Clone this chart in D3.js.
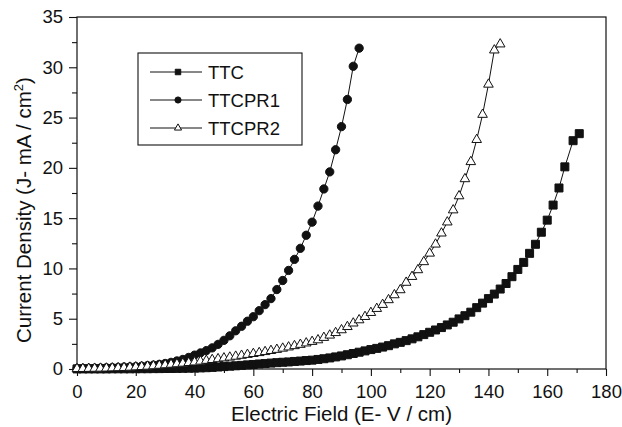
<!DOCTYPE html>
<html>
<head>
<meta charset="utf-8">
<script src="https://cdn.jsdelivr.net/npm/d3@7"></script>
<style>
  body { margin: 0; background: #fff; }
  text { font-family: "Liberation Sans", Arial, sans-serif; fill: #111; }
</style>
</head>
<body>
<div class="container"></div>
<script>
// [E (V/cm), J (mA/cm2)]
const ttc = [
  [0,0.01],[2,0.01],[4,0.01],[6,0.01],[8,0.01],[10,0.01],[12,0.02],[14,0.02],[16,0.02],[18,0.02],
  [20,0.03],[22,0.03],[24,0.03],[26,0.04],[28,0.04],[30,0.05],[32,0.05],[34,0.06],[36,0.07],[38,0.08],
  [40,0.09],[42,0.11],[44,0.13],[46,0.16],[48,0.2],[50,0.24],[52,0.28],[54,0.32],[56,0.36],[58,0.41],
  [60,0.45],[62,0.5],[64,0.54],[66,0.59],[68,0.63],[70,0.67],[72,0.7],[74,0.75],[76,0.79],[78,0.84],
  [80,0.88],[82,0.95],[84,1.02],[86,1.1],[88,1.2],[90,1.3],[92,1.42],[94,1.54],[96,1.67],[98,1.8],
  [100,1.93],[102,2.05],[104,2.18],[106,2.32],[108,2.5],[110,2.65],[112,2.82],[114,3.0],[116,3.2],[118,3.42],
  [120,3.65],[122,3.88],[124,4.12],[126,4.38],[128,4.65],[130,4.98],[132,5.3],[134,5.65],[136,6.1],[138,6.55],
  [140,7.0],[142,7.45],[144,7.95],[146,8.5],[148,9.18],[150,9.9],[152,10.6],[154,11.5],[156,12.4],[158,13.6],
  [160,14.8],[162,16.3],[164,18.0],[166,20.1],[168.8,22.7],[170.9,23.4]
]

const ttcpr1 = [
  [0,0.05],[2,0.06],[4,0.07],[6,0.08],[8,0.1],[10,0.12],[12,0.14],[14,0.16],[16,0.19],[18,0.21],
  [20,0.24],[22,0.28],[24,0.33],[26,0.39],[28,0.46],[30,0.55],[32,0.66],[34,0.8],[36,0.95],[38,1.15],
  [40,1.38],[42,1.6],[44,1.83],[46,2.1],[48,2.45],[50,2.85],[52,3.3],[54,3.8],[56,4.25],[58,4.75],
  [60,5.2],[62,5.8],[64,6.4],[66,7.0],[68,7.9],[70,8.8],[72,9.8],[74,10.9],[76,12.0],[78,13.3],
  [80,14.6],[82,16.2],[84,17.9],[86,19.6],[88,21.8],[90,24.1],[92,26.8],[94,30.1],[96,31.9]
]

const ttcpr2 = [
  [0,0.02],[2,0.03],[4,0.04],[6,0.05],[8,0.06],[10,0.07],[12,0.09],[14,0.11],[16,0.13],[18,0.16],
  [20,0.19],[22,0.22],[24,0.26],[26,0.3],[28,0.35],[30,0.4],[32,0.45],[34,0.5],[36,0.56],[38,0.62],
  [40,0.68],[42,0.76],[44,0.84],[46,0.92],[48,1.0],[50,1.08],[52,1.16],[54,1.25],[56,1.34],[58,1.43],
  [60,1.52],[62,1.61],[64,1.71],[66,1.82],[68,1.93],[70,2.05],[72,2.17],[74,2.3],[76,2.43],[78,2.57],
  [80,2.72],[82,2.88],[84,3.12],[86,3.35],[88,3.6],[90,3.88],[92,4.2],[94,4.55],[96,4.87],[98,5.2],
  [100,5.6],[102,6.0],[104,6.4],[106,6.87],[108,7.36],[110,7.86],[112,8.6],[114,9.18],[116,9.85],[118,10.65],
  [120,11.5],[122,12.4],[124,13.5],[126,14.6],[128,15.8],[130,17.2],[132,18.9],[134,20.6],[136,22.8],[138,25.3],
  [140,28.3],[142,31.7],[144,32.3]
]

const seriesNames = ["TTC", "TTCPR1", "TTCPR2"]
const xTicks = [0, 20, 40, 60, 80, 100, 120, 140, 160, 180]
const yTicks = [0, 5, 10, 15, 20, 25, 30, 35]

let outerWidth = 622
let outerHeight = 427
let margin = {top: 17, bottom: 58, left: 77, right: 16}
let width = outerWidth - margin.left - margin.right
let height = outerHeight - margin.top - margin.bottom

const svg = d3.select(".container")
    .append("svg")
    .attr("width", outerWidth)
    .attr("height", outerHeight)

const g = svg.append("g")
    .attr("transform", `translate(${margin.left}, ${margin.top})`)

const x = d3.scaleLinear().domain([0, 180]).range([0, width])
const y = d3.scaleLinear().domain([0, 35]).range([height, 0])

// frame
g.append("rect")
    .attr("width", width)
    .attr("height", height)
    .attr("fill", "none")
    .attr("stroke", "#111")
    .attr("stroke-width", 1.2)

// minor ticks
g.append("g")
    .attr("transform", `translate(0, ${height})`)
    .call(d3.axisBottom(x).tickValues(d3.range(10, 180, 20)).tickSize(4).tickFormat(""))
    .call(a => a.select(".domain").remove())
g.append("g")
    .call(d3.axisLeft(y).tickValues(d3.range(2.5, 35, 5)).tickSize(5).tickFormat(""))
    .call(a => a.select(".domain").remove())

// major ticks
const xAxis = g.append("g")
    .attr("transform", `translate(0, ${height})`)
    .call(d3.axisBottom(x).tickValues(xTicks).tickSize(7).tickPadding(9))
xAxis.select(".domain").remove()

const yAxis = g.append("g")
    .call(d3.axisLeft(y).tickValues(yTicks).tickSize(8).tickPadding(6))
yAxis.select(".domain").remove()

g.selectAll(".tick line").attr("stroke", "#111").attr("stroke-width", 1.1)
g.selectAll(".tick text")
    .style("font-size", "18.5px")
    .attr("fill", "#111")

// axis titles
svg.append("text")
    .attr("x", margin.left + x(90))
    .attr("y", 421)
    .attr("text-anchor", "middle")
    .style("font-size", "20.5px")
    .text("Electric Field (E- V / cm)")

const yTitle = svg.append("text")
    .attr("transform", `translate(31, ${margin.top + y(15.8)}) rotate(-90)`)
    .attr("text-anchor", "middle")
    .style("font-size", "20.5px")
yTitle.append("tspan").text("Current Density (J- mA / cm")
yTitle.append("tspan").attr("dy", -8).style("font-size", "13px").text("2")
yTitle.append("tspan").attr("dy", 8).text(")")

const line = d3.line()
    .x(d => x(d[0]))
    .y(d => y(d[1]))

const symSquare = d3.symbol().type(d3.symbolSquare)
const symCircle = d3.symbol().type(d3.symbolCircle)
const symTri = d3.symbol().type(d3.symbolTriangle)

const series = [
    {name: seriesNames[0], data: ttc, sym: symSquare, size: 64, fill: "#111", legendSize: 30},
    {name: seriesNames[1], data: ttcpr1, sym: symCircle, size: 54, fill: "#111", legendSize: 30},
    {name: seriesNames[2], data: ttcpr2, sym: symTri, size: 40, fill: "#fff", legendSize: 22}
]

series.forEach(s => {
    g.append("path")
        .datum(s.data)
        .attr("d", line)
        .attr("fill", "none")
        .attr("stroke", "#111")
        .attr("stroke-width", 1)

    g.selectAll(null)
        .data(s.data)
        .join("path")
        .attr("transform", d => `translate(${x(d[0])}, ${y(d[1])})`)
        .attr("d", s.sym.size(s.size))
        .attr("fill", s.fill)
        .attr("stroke", "#111")
        .attr("stroke-width", 1)
})

// legend
const legend = svg.append("g")
legend.append("rect")
    .attr("x", 138)
    .attr("y", 53)
    .attr("width", 164)
    .attr("height", 92)
    .attr("fill", "#fff")
    .attr("stroke", "#111")
    .attr("stroke-width", 1.1)

const item = legend.selectAll(".item")
    .data(series)
    .join("g")
    .attr("transform", (d, i) => `translate(150, ${72 + i * 28})`)

item.append("line")
    .attr("x1", 0).attr("x2", 52)
    .attr("stroke", "#111")
    .attr("stroke-width", 1)
item.append("path")
    .attr("transform", "translate(28, 0)")
    .attr("d", d => d.sym.size(d.legendSize)())
    .attr("fill", d => d.fill)
    .attr("stroke", "#111")
    .attr("stroke-width", 1)
item.append("text")
    .attr("x", 58)
    .attr("dy", "0.36em")
    .style("font-size", "18.5px")
    .text(d => d.name)
</script>
</body>
</html>
